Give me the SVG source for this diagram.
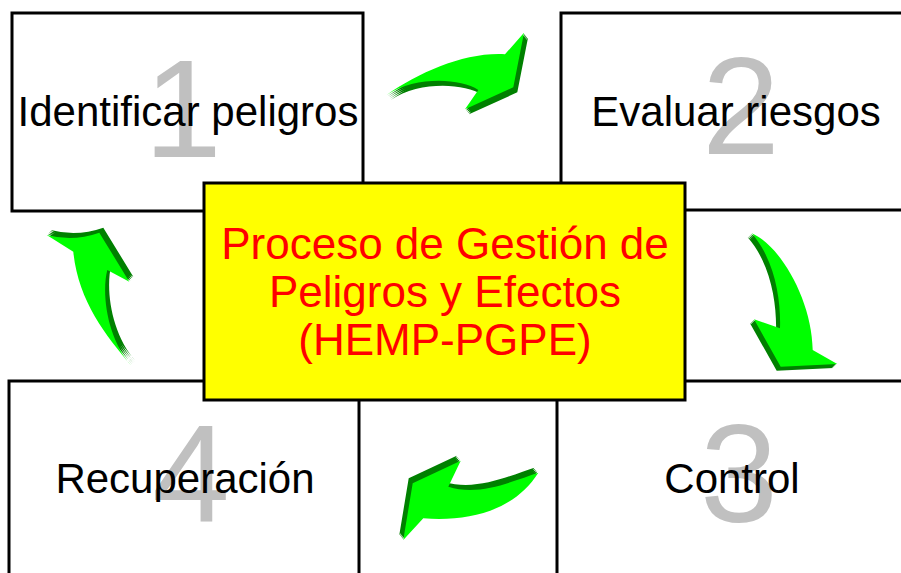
<svg xmlns="http://www.w3.org/2000/svg" xmlns:xlink="http://www.w3.org/1999/xlink" width="901" height="573" viewBox="0 0 901 573">
<style>
.box{fill:#ffffff;stroke:#000000;stroke-width:3}
.center{fill:#ffff00;stroke:#000000;stroke-width:3}
.num{font-family:"Liberation Sans",Arial,sans-serif;font-size:140px;fill:#c0c0c0;text-anchor:middle}
.lbl{font-family:"Liberation Sans",Arial,sans-serif;font-size:42px;fill:#000000;text-anchor:middle}
.ctr{font-family:"Liberation Sans",Arial,sans-serif;font-size:44px;fill:#ff0000;text-anchor:middle}
.dk{fill:#008000}
.lt{fill:#00ff00}
</style>
<defs>
<path id="a1" d="M386.7,95 C420,72 465,52 505,54.3 L524,32.7 L513.3,87.3 L465,109.3 L478.3,90 C460,78 415,76 386.7,95 Z"/>
<path id="a2" d="M751.7,233.3 C780,245 812,300 812.7,350 L837.3,364 L780.7,366.7 L754,319.3 L780,328.3 C781,300 775,260 751.7,233.3 Z"/>
<path id="a3" d="M538.3,472.7 C515,480 480,497 448.3,486.7 L460.7,460.7 L412.7,483.3 L403.3,540 L423.3,518.3 C470,522 515,510 538.3,472.7 Z"/>
<path id="a4" d="M46.7,235 Q73,242 99.3,232.7 L129.3,281.7 L107.3,270 C101,295 108,340 131.7,366 C105,335 78,300 73.3,251.7 Z"/>
</defs>
<rect width="901" height="573" fill="#ffffff"/>
<g id="node1">
<rect class="box" x="12" y="13" width="351" height="198"/>
<text class="num" x="183" y="157">1</text>
<text class="lbl" x="188" y="126">Identificar peligros</text>
</g>
<g id="node2">
<rect class="box" x="561" y="13" width="360" height="197"/>
<text class="num" x="741" y="154">2</text>
<text class="lbl" x="736" y="126">Evaluar riesgos</text>
</g>
<g id="node4">
<rect class="box" x="9" y="381" width="350" height="220"/>
<text class="num" x="191" y="522">4</text>
<text class="lbl" x="185" y="493">Recuperación</text>
</g>
<g id="node3">
<rect class="box" x="557" y="381" width="360" height="220"/>
<text class="num" x="739" y="522">3</text>
<text class="lbl" x="732" y="493">Control</text>
</g>
<g id="center">
<rect class="center" x="204" y="183" width="481" height="217"/>
<text class="ctr" x="445" y="259">Proceso de Gestión de</text>
<text class="ctr" x="445" y="307">Peligros y Efectos</text>
<text class="ctr" x="445" y="355">(HEMP-PGPE)</text>
</g>
<g id="connectors">
<g id="arrow1-2">
<use xlink:href="#a1" class="dk" transform="translate(1,1.25)"/>
<use xlink:href="#a1" class="dk" transform="translate(2,2.5)"/>
<use xlink:href="#a1" class="dk" transform="translate(3,3.75)"/>
<use xlink:href="#a1" class="dk" transform="translate(4,5)"/>
<use xlink:href="#a1" class="lt"/>
</g>
<g id="arrow2-3">
<use xlink:href="#a2" class="dk" transform="translate(-1,1)"/>
<use xlink:href="#a2" class="dk" transform="translate(-2,2)"/>
<use xlink:href="#a2" class="dk" transform="translate(-3,3)"/>
<use xlink:href="#a2" class="dk" transform="translate(-4,4)"/>
<use xlink:href="#a2" class="lt"/>
</g>
<g id="arrow3-4">
<use xlink:href="#a3" class="dk" transform="translate(-1,-1.25)"/>
<use xlink:href="#a3" class="dk" transform="translate(-2,-2.5)"/>
<use xlink:href="#a3" class="dk" transform="translate(-3,-3.75)"/>
<use xlink:href="#a3" class="dk" transform="translate(-4,-5)"/>
<use xlink:href="#a3" class="lt"/>
</g>
<g id="arrow4-1">
<use xlink:href="#a4" class="dk" transform="translate(1,-1.25)"/>
<use xlink:href="#a4" class="dk" transform="translate(2,-2.5)"/>
<use xlink:href="#a4" class="dk" transform="translate(3,-3.75)"/>
<use xlink:href="#a4" class="dk" transform="translate(4,-5)"/>
<use xlink:href="#a4" class="lt"/>
</g>
</g>
</svg>
